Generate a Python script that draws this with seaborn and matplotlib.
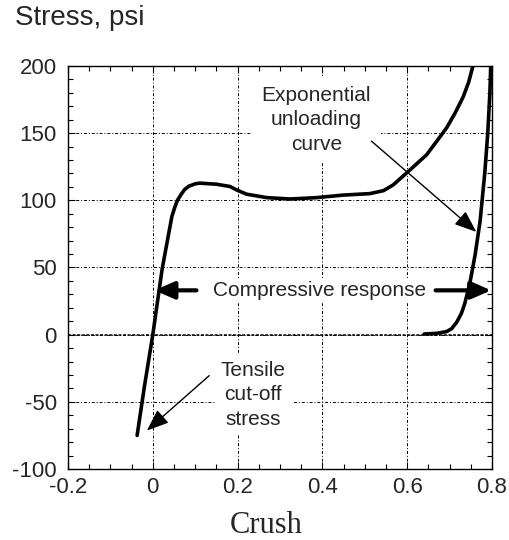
import matplotlib
matplotlib.use("Agg")
import matplotlib.pyplot as plt
import seaborn as sns
from matplotlib.ticker import MultipleLocator, FuncFormatter

# loading curve (crush vs stress, psi)
crush_load = [-0.037, -0.02, 0.0, 0.022, 0.04, 0.045, 0.052, 0.058, 0.068, 0.075,
              0.085, 0.1, 0.111, 0.15, 0.182, 0.198, 0.221, 0.269, 0.324, 0.386,
              0.449, 0.512, 0.544, 0.567, 0.599, 0.62, 0.646, 0.672, 0.693,
              0.713, 0.732, 0.745, 0.755]
stress_load = [-75, -39, 0, 48.8, 79.5, 88, 95, 100, 105, 108,
               110.5, 112.3, 112.8, 112, 110.3, 107.7, 104.6, 102, 101, 102,
               103.9, 105, 107.2, 111.5, 120.5, 126.5, 134, 145, 154,
               165, 177, 188, 200]

# exponential unloading curve
crush_unload = [0.64, 0.67, 0.693, 0.705, 0.717, 0.728, 0.736, 0.748, 0.76,
                0.772, 0.783, 0.79, 0.795, 0.797]
stress_unload = [0.5, 1, 2.3, 4.5, 9.4, 16, 23.4, 38.7, 59.1,
                 84.7, 120.5, 150, 180, 200]

x_ticks = [-0.2, 0, 0.2, 0.4, 0.6, 0.8]
y_ticks = [-100, -50, 0, 50, 100, 150, 200]

sns.set_theme(style="ticks")
plt.rcParams["font.family"] = ["Liberation Sans", "DejaVu Sans"]

fig = plt.figure(figsize=(5.09, 5.40), dpi=100)
ax = fig.add_axes([68 / 509, 1 - 469 / 540, 424 / 509, 403 / 540])

sns.lineplot(x=crush_load, y=stress_load, sort=False, estimator=None,
             color="black", lw=2.6, ax=ax, zorder=4)
sns.lineplot(x=crush_unload, y=stress_unload, sort=False, estimator=None,
             color="black", lw=2.6, ax=ax, zorder=4)

ax.set_xlim(-0.2, 0.8)
ax.set_ylim(-100, 200)
ax.set_xticks(x_ticks)
ax.set_yticks(y_ticks)
ax.xaxis.set_minor_locator(MultipleLocator(0.05))
ax.yaxis.set_minor_locator(MultipleLocator(10))
ax.xaxis.set_major_formatter(FuncFormatter(lambda v, _: f"{v:g}"))
ax.yaxis.set_major_formatter(FuncFormatter(lambda v, _: f"{v:g}"))
ax.tick_params(which="both", direction="in", top=True, right=True,
               color="black", width=0.8)
ax.tick_params(which="major", length=5, labelsize=16)
ax.tick_params(axis="y", which="major", pad=8)
ax.tick_params(axis="x", which="major", pad=6)
ax.tick_params(which="minor", length=3.5)
for s in ax.spines.values():
    s.set_color("black")
    s.set_linewidth(1.0)

ax.set_axisbelow(True)
ax.grid(which="major", color="black", lw=0.7, ls=(0, (3, 2, 1, 2)))
ax.axhline(0, color="black", lw=1.1, ls=(0, (2, 1)), zorder=1)

ax.set_xlabel("Crush", family="Liberation Serif", fontsize=22)
ax.xaxis.set_label_coords(0.468, -0.105)
ax.set_ylabel("")
fig.text(15 / 509, 1 - 18 / 540, "Stress, psi", fontsize=20,
         ha="left", va="center")

box = dict(boxstyle="square,pad=0.45", fc="white", ec="none")
ax.text(0.386, 160, "Exponential\nunloading\ncurve", fontsize=15,
        ha="center", va="center", linespacing=1.38, bbox=box, zorder=3)
ax.text(0.237, -44.7, "Tensile\ncut-off\nstress", fontsize=15,
        ha="center", va="center", linespacing=1.38,
        bbox=dict(boxstyle="square,pad=0.3", fc="white", ec="none"), zorder=3)
ax.text(0.394, 33, "Compressive response", fontsize=15,
        ha="center", va="center",
        bbox=dict(boxstyle="square,pad=0.15", fc="white", ec="none"), zorder=3)

thick = dict(arrowstyle="-|>,head_length=0.8,head_width=0.35",
             color="black", lw=3, mutation_scale=15, shrinkA=0, shrinkB=0)
ax.annotate("", xy=(0.004, 33), xytext=(0.103, 33), arrowprops=thick, zorder=5)
ax.annotate("", xy=(0.798, 33), xytext=(0.667, 33), arrowprops=thick, zorder=5)

thin = dict(arrowstyle="-|>,head_length=0.9,head_width=0.35",
            color="black", lw=1.0, mutation_scale=15, shrinkA=0, shrinkB=0)
ax.annotate("", xy=(0.763, 76.5), xytext=(0.516, 144), arrowprops=thin, zorder=5)
ax.annotate("", xy=(-0.014, -71.4), xytext=(0.133, -30.5), arrowprops=thin, zorder=5)

fig.savefig("out.png", dpi=100)
